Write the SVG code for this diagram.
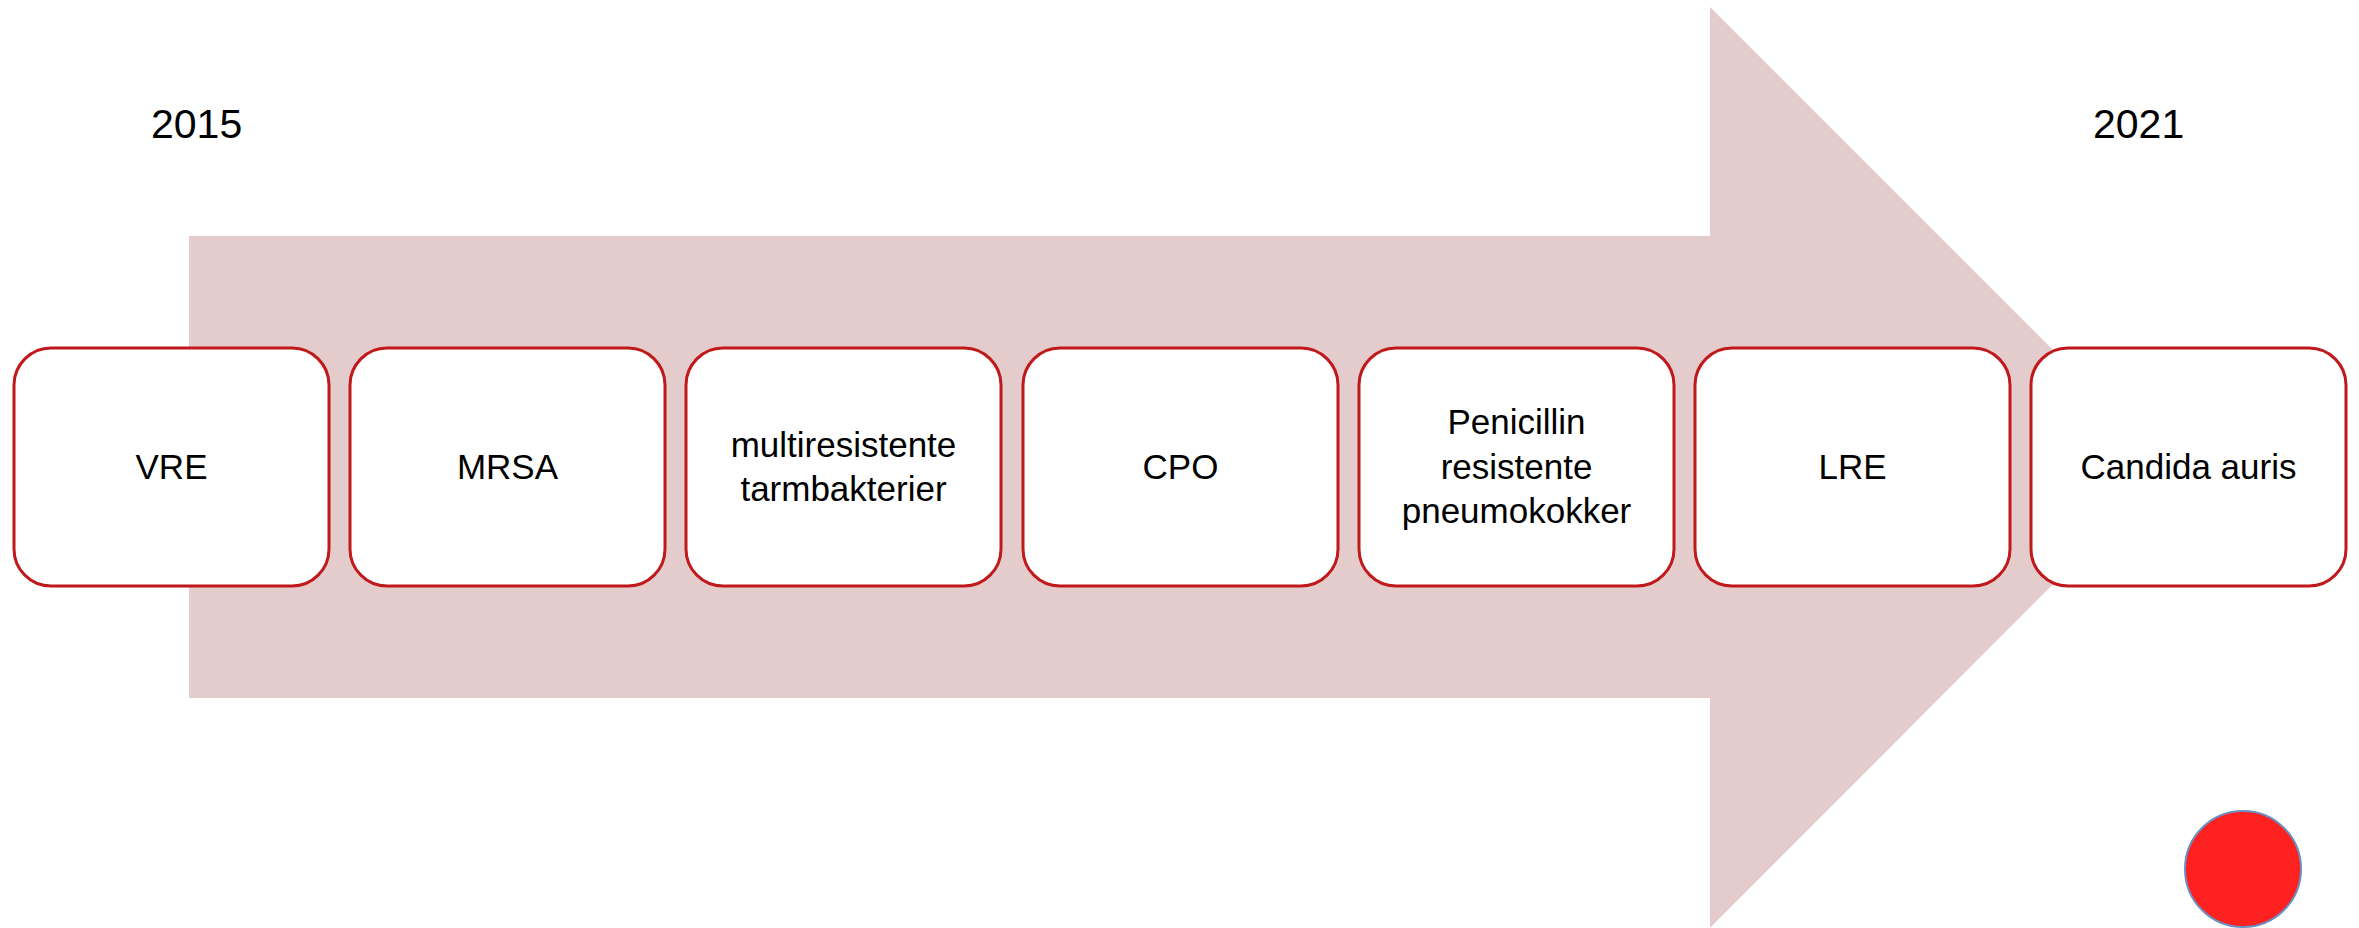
<svg xmlns="http://www.w3.org/2000/svg" width="2359" height="928" viewBox="0 0 2359 928">
<style>
.box{fill:#ffffff;stroke:#C0191C;stroke-width:3}
.t{font-family:"Liberation Sans",Arial,sans-serif;font-size:35px;fill:#000000;text-anchor:middle}
.yr{font-family:"Liberation Sans",Arial,sans-serif;font-size:41px;fill:#000000}
</style>
<rect width="2359" height="928" fill="#ffffff"/>
<g id="arrow">
<polygon points="189,236 1710,236 1710,7 2170,467 1710,928 1710,698 189,698" fill="#E4CCCD"/>
</g>
<g id="connectors"></g>
<g id="year-2015"><text class="yr" x="151" y="138">2015</text></g>
<g id="year-2021"><text class="yr" x="2093" y="138">2021</text></g>
<g id="n1"><rect class="box" x="14" y="348" width="315" height="238" rx="37"/><text class="t" x="171.5" y="479">VRE</text></g>
<g id="n2"><rect class="box" x="350" y="348" width="315" height="238" rx="37"/><text class="t" x="507.5" y="479">MRSA</text></g>
<g id="n3"><rect class="box" x="686" y="348" width="315" height="238" rx="37"/><text class="t" x="843.5" y="457">multiresistente</text><text class="t" x="843.5" y="501">tarmbakterier</text></g>
<g id="n4"><rect class="box" x="1023" y="348" width="315" height="238" rx="37"/><text class="t" x="1180.5" y="479">CPO</text></g>
<g id="n5"><rect class="box" x="1359" y="348" width="315" height="238" rx="37"/><text class="t" x="1516.5" y="434">Penicillin</text><text class="t" x="1516.5" y="479">resistente</text><text class="t" x="1516.5" y="523">pneumokokker</text></g>
<g id="n6"><rect class="box" x="1695" y="348" width="315" height="238" rx="37"/><text class="t" x="1852.5" y="479">LRE</text></g>
<g id="n7"><rect class="box" x="2031" y="348" width="315" height="238" rx="37"/><text class="t" x="2188.5" y="479">Candida auris</text></g>
<g id="dot"><circle cx="2243" cy="869" r="58" fill="#FF2020" stroke="#6A8FC0" stroke-width="2"/></g>
</svg>
